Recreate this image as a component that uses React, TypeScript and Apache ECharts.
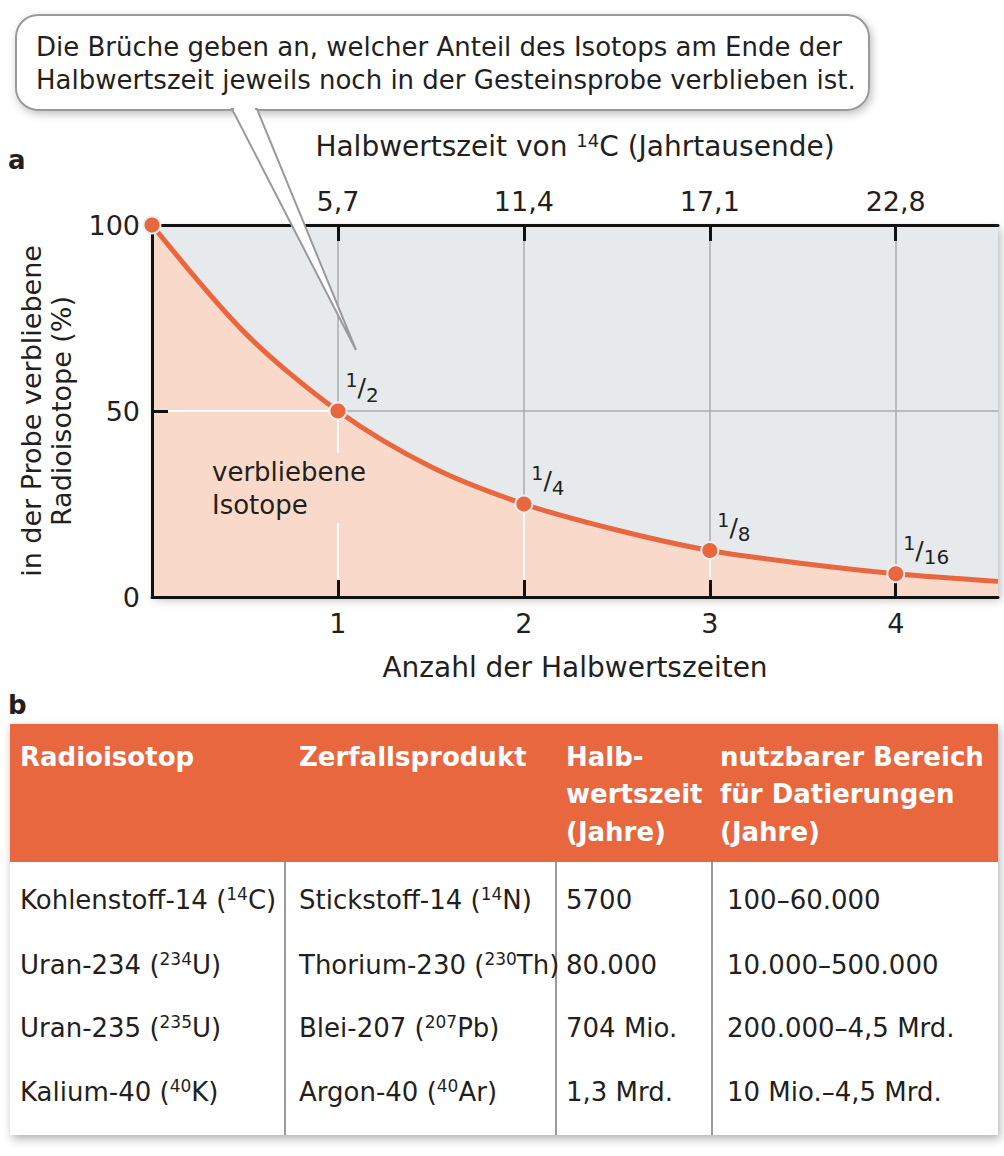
import React, { useEffect, useRef } from "react";
import * as echarts from "echarts";

// ---------- data ----------
const halfLifeCounts = [0, 1, 2, 3, 4];
const remainingPercent = [100, 50, 25, 12.5, 6.25];
const fractionNumerators = ["", "1", "1", "1", "1"];
const fractionDenominators = ["", "2", "4", "8", "16"];
const curveX = [0, 0.5, 1, 1.5, 2, 2.5, 3, 3.5, 4, 4.55];
const curveY = [100, 71, 50, 35, 25, 18, 12.5, 9, 6.25, 4.2];
const xTickValues = [1, 2, 3, 4];
const c14TickLabels = ["5,7", "11,4", "17,1", "22,8"];
const yTickValues = [0, 50, 100];

const tableHeaders = [
  "Radioisotop",
  "Zerfallsprodukt",
  "Halb-\nwertszeit\n(Jahre)",
  "nutzbarer Bereich\nfür Datierungen\n(Jahre)",
];
const isotopeNames = ["Kohlenstoff-14", "Uran-234", "Uran-235", "Kalium-40"];
const isotopeMasses = ["14", "234", "235", "40"];
const isotopeSymbols = ["C", "U", "U", "K"];
const productNames = ["Stickstoff-14", "Thorium-230", "Blei-207", "Argon-40"];
const productMasses = ["14", "230", "207", "40"];
const productSymbols = ["N", "Th", "Pb", "Ar"];
const halfLives = ["5700", "80.000", "704 Mio.", "1,3 Mrd."];
const datingRanges = ["100–60.000", "10.000–500.000", "200.000–4,5 Mrd.", "10 Mio.–4,5 Mrd."];

// ---------- styles ----------
const FONT = "'DejaVu Sans', 'Liberation Sans', Arial, sans-serif";
const TEXT = "#231f20";
const ORANGE = "#e8673f";
const SALMON = "#f9d9ca";
const PLOT_BG = "#e7eaed";
const GRIDGRAY = "#a9adb1";

export default function App() {
  const ref = useRef<HTMLDivElement>(null);

  useEffect(() => {
    if (!ref.current) return;
    const chart = echarts.init(ref.current, null, { renderer: "svg" });

    const supRich = {
      s: { fontSize: 17, lineHeight: 8, verticalAlign: "top", fill: TEXT, color: TEXT, fontFamily: FONT },
    };

    const colX = [20, 299, 566, 727];
    const headerX = [20, 299, 566, 720];
    const rowY = [900, 965, 1028, 1092];
    const colLinesX = [285, 556, 712];

    const graphics: any[] = [];

    // callout
    graphics.push({
      type: "rect",
      z: 100,
      shape: { x: 16, y: 15, width: 853, height: 95, r: 22 },
      style: {
        fill: "#fff",
        stroke: "#9a9a9a",
        lineWidth: 2,
        shadowBlur: 8,
        shadowColor: "rgba(0,0,0,0.25)",
        shadowOffsetX: 2,
        shadowOffsetY: 3,
      },
    });
    graphics.push({
      type: "polygon",
      z: 101,
      shape: { points: [[232, 109], [257, 109], [356, 350]] },
      style: { fill: "#fff", stroke: "#9a9a9a", lineWidth: 2 },
    });
    graphics.push({
      type: "rect",
      z: 102,
      shape: { x: 234, y: 106, width: 21, height: 6 },
      style: { fill: "#fff" },
    });
    graphics.push({
      type: "text",
      z: 103,
      x: 36,
      y: 30,
      style: {
        text: "Die Brüche geben an, welcher Anteil des Isotops am Ende der\nHalbwertszeit jeweils noch in der Gesteinsprobe verblieben ist.",
        font: `26px ${FONT}`,
        fill: TEXT,
        lineHeight: 33,
        verticalAlign: "top",
      },
    });

    // panel letters
    graphics.push({
      type: "text", z: 100, x: 8, y: 160,
      style: { text: "a", font: `bold 26px ${FONT}`, fill: TEXT, verticalAlign: "middle" },
    });
    graphics.push({
      type: "text", z: 100, x: 8, y: 705,
      style: { text: "b", font: `bold 26px ${FONT}`, fill: TEXT, verticalAlign: "middle" },
    });

    // area label
    graphics.push({
      type: "text", z: 100, x: 212, y: 453,
      style: {
        text: "verbliebene\nIsotope",
        font: `26px ${FONT}`,
        fill: TEXT,
        lineHeight: 33,
        verticalAlign: "top",
        backgroundColor: SALMON,
        padding: [2, 0, 2, 0],
      },
    });

    // table
    graphics.push({
      type: "rect", z: 100,
      shape: { x: 10, y: 724, width: 988, height: 411 },
      style: { fill: "#fff", shadowBlur: 10, shadowColor: "rgba(0,0,0,0.3)", shadowOffsetX: 2, shadowOffsetY: 4 },
    });
    graphics.push({
      type: "rect", z: 101,
      shape: { x: 10, y: 724, width: 988, height: 138 },
      style: { fill: ORANGE },
    });
    tableHeaders.forEach((h, i) => {
      graphics.push({
        type: "text", z: 102, x: headerX[i], y: 738,
        style: { text: h, font: `bold 26px ${FONT}`, fill: "#fff", lineHeight: 37.5, verticalAlign: "top" },
      });
    });
    colLinesX.forEach((x) => {
      graphics.push({
        type: "line", z: 102,
        shape: { x1: x, y1: 862, x2: x, y2: 1135 },
        style: { stroke: "#9a9a9a", lineWidth: 2 },
      });
    });
    const rowCells = isotopeNames.map((n, i) => [
      `${n} ({s|${isotopeMasses[i]}}${isotopeSymbols[i]})`,
      `${productNames[i]} ({s|${productMasses[i]}}${productSymbols[i]})`,
      halfLives[i],
      datingRanges[i],
    ]);
    rowCells.forEach((cells, r) => {
      cells.forEach((t, c) => {
        graphics.push({
          type: "text", z: 102, x: colX[c], y: rowY[r],
          style: {
            text: t,
            font: `26px ${FONT}`,
            fill: TEXT,
            lineHeight: 30,
            verticalAlign: "middle",
            rich: supRich,
          },
        });
      });
    });

    const axisCommon = {
      type: "value" as const,
      min: 0,
      max: 4.55,
      interval: 1,
      splitLine: { show: false },
      z: 4,
    };

    const option: any = {
      animation: false,
      textStyle: { fontFamily: FONT },
      grid: {
        left: 152,
        right: 6,
        top: 225,
        bottom: 559,
        show: true,
        backgroundColor: PLOT_BG,
        borderWidth: 0,
        shadowBlur: 10,
        shadowColor: "rgba(0,0,0,0.25)",
        shadowOffsetX: 3,
        shadowOffsetY: 3,
      },
      xAxis: [
        {
          ...axisCommon,
          position: "bottom",
          name: "Anzahl der Halbwertszeiten",
          nameLocation: "middle",
          nameGap: 56,
          nameTextStyle: { fontSize: 28, color: TEXT, fontFamily: FONT },
          axisLine: { lineStyle: { color: "#111", width: 3 } },
          axisTick: { inside: true, length: 17, customValues: xTickValues, lineStyle: { color: "#111", width: 3 } },
          axisLabel: { customValues: xTickValues, fontSize: 27, color: TEXT, margin: 13, fontFamily: FONT },
        },
        {
          ...axisCommon,
          position: "top",
          name: "Halbwertszeit von {s|14}C (Jahrtausende)",
          nameLocation: "middle",
          nameGap: 64,
          nameTextStyle: {
            fontSize: 28,
            color: TEXT,
            lineHeight: 30,
            fontFamily: FONT,
            rich: { s: { fontSize: 18, lineHeight: 8, verticalAlign: "top", color: TEXT, fontFamily: FONT } },
          },
          axisLine: { lineStyle: { color: "#111", width: 3 } },
          axisTick: { inside: true, length: 16, customValues: xTickValues, lineStyle: { color: "#111", width: 3 } },
          axisLabel: {
            customValues: xTickValues,
            fontSize: 27,
            color: TEXT,
            margin: 10,
            fontFamily: FONT,
            formatter: (v: number) => c14TickLabels[xTickValues.indexOf(v)] ?? "",
          },
        },
      ],
      yAxis: {
        type: "value",
        min: 0,
        max: 100,
        interval: 50,
        z: 4,
        name: "in der Probe verbliebene\nRadioisotope (%)",
        nameLocation: "middle",
        nameGap: 76,
        nameRotate: 90,
        nameTextStyle: { fontSize: 27, color: TEXT, lineHeight: 30, fontFamily: FONT },
        splitLine: { show: false },
        axisLine: { show: true, lineStyle: { color: "#111", width: 3 } },
        axisTick: { show: true, inside: true, length: 16, customValues: [yTickValues[1]], lineStyle: { color: "#111", width: 3 } },
        axisLabel: { fontSize: 27, color: TEXT, margin: 12, fontFamily: FONT },
      },
      series: [
        {
          type: "line",
          name: "grid",
          data: [],
          silent: true,
          z: 1,
          markLine: {
            z: 1,
            silent: true,
            animation: false,
            symbol: ["none", "none"],
            label: { show: false },
            lineStyle: { color: GRIDGRAY, width: 1.5, type: "solid" },
            data: [...xTickValues.map((v) => ({ xAxis: v })), { yAxis: yTickValues[1] }],
          },
        },
        {
          type: "line",
          name: "curve",
          data: curveX.map((x, i) => [x, curveY[i]]),
          smooth: 0.3,
          showSymbol: false,
          silent: true,
          z: 2,
          lineStyle: { color: ORANGE, width: 5 },
          areaStyle: { color: SALMON, opacity: 1 },
          markLine: {
            z: 3,
            silent: true,
            animation: false,
            symbol: ["none", "none"],
            label: { show: false },
            lineStyle: { color: "#ffffff", width: 2, type: "solid" },
            data: [
              [{ coord: [halfLifeCounts[0], remainingPercent[1]] }, { coord: [halfLifeCounts[1], remainingPercent[1]] }],
              ...[1, 2, 3].map((i) => [
                { coord: [halfLifeCounts[i], 0] },
                { coord: [halfLifeCounts[i], remainingPercent[i]] },
              ]),
            ],
          },
        },
        {
          type: "scatter",
          name: "points",
          data: halfLifeCounts.map((x, i) => [x, remainingPercent[i]]),
          symbol: "circle",
          symbolSize: 17,
          z: 5,
          silent: true,
          itemStyle: { color: ORANGE, borderColor: "#eeeeee", borderWidth: 2, opacity: 1 },
          label: {
            show: true,
            position: [17, -31],
            fontFamily: FONT,
            formatter: (p: any) =>
              fractionNumerators[p.dataIndex]
                ? `{n|${fractionNumerators[p.dataIndex]}}{sl|/}{d|${fractionDenominators[p.dataIndex]}}`
                : "",
            rich: {
              n: { fontSize: 19, lineHeight: 16, verticalAlign: "top", color: TEXT, fontFamily: FONT },
              sl: { fontSize: 25, lineHeight: 34, verticalAlign: "middle", color: TEXT, fontFamily: FONT },
              d: { fontSize: 20, lineHeight: 18, verticalAlign: "bottom", color: TEXT, fontFamily: FONT },
            },
          },
        },
      ],
      graphic: graphics,
    };

    chart.setOption(option);
    return () => chart.dispose();
  }, []);

  return (
    <div
      ref={ref}
      style={{ position: "absolute", left: 0, top: 0, width: 1004, height: 1156, background: "#fff" }}
    />
  );
}
